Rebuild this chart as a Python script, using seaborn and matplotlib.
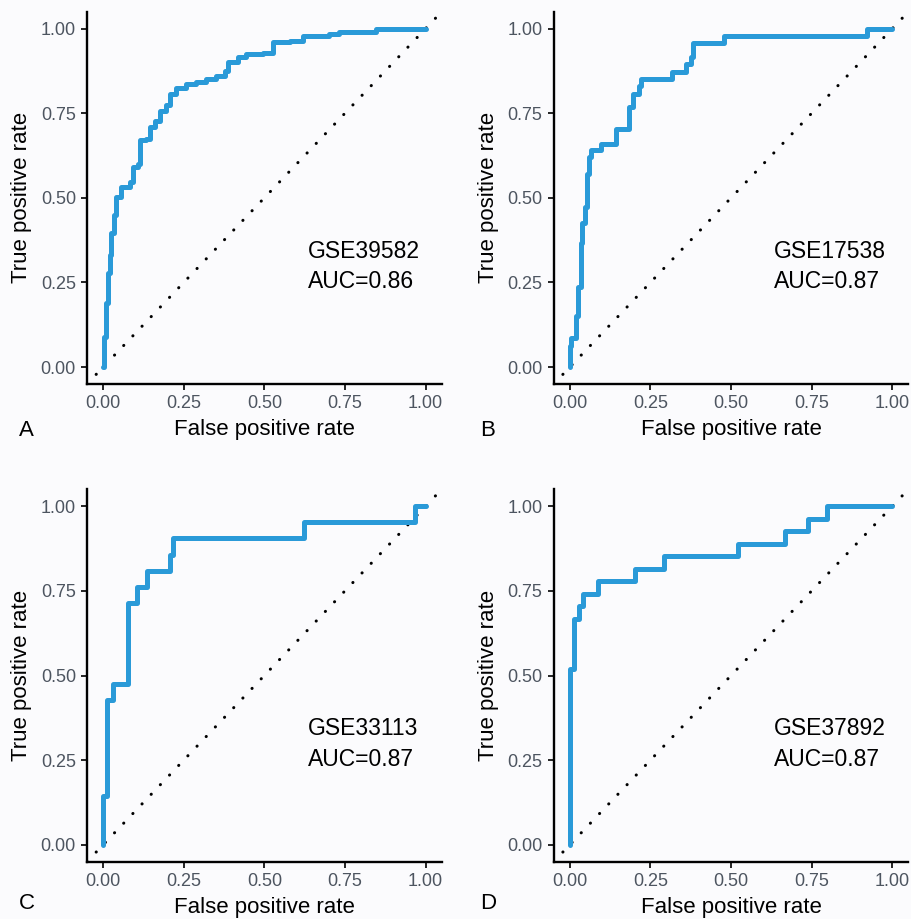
import numpy as np
import pandas as pd
import seaborn as sns
import matplotlib
matplotlib.use("Agg")
import matplotlib.pyplot as plt

# ROC curve vertices (fpr, tpr)
fpr_a = [0, 0.003, 0.008, 0.015, 0.022, 0.025, 0.033, 0.041, 0.056, 0.082, 0.092,
         0.108, 0.113, 0.134, 0.144, 0.16, 0.175, 0.196, 0.206, 0.227, 0.258, 0.289,
         0.32, 0.351, 0.377, 0.387, 0.418, 0.444, 0.496, 0.527, 0.578, 0.62, 0.702,
         0.733, 0.847, 1.0]
tpr_a = [0, 0.09, 0.19, 0.278, 0.33, 0.395, 0.45, 0.503, 0.532, 0.547, 0.591,
         0.601, 0.67, 0.675, 0.709, 0.728, 0.758, 0.773, 0.807, 0.826, 0.836, 0.841,
         0.851, 0.861, 0.876, 0.9, 0.915, 0.926, 0.929, 0.959, 0.964, 0.978, 0.983,
         0.991, 0.998, 1.0]

fpr_b = [0, 0, 0.005, 0.019, 0.024, 0.034, 0.039, 0.048, 0.053, 0.06, 0.065, 0.098,
         0.143, 0.184, 0.195, 0.215, 0.22, 0.317, 0.36, 0.375, 0.383, 0.479, 0.921, 1.0]
tpr_b = [0, 0.062, 0.086, 0.15, 0.238, 0.366, 0.425, 0.474, 0.571, 0.62, 0.64, 0.66,
         0.704, 0.768, 0.807, 0.831, 0.851, 0.873, 0.895, 0.915, 0.957, 0.978, 1.0, 1.0]

fpr_c = [0, 0, 0.012, 0.031, 0.077, 0.106, 0.137, 0.207, 0.217, 0.623, 0.968, 1.0]
tpr_c = [0, 0.143, 0.429, 0.476, 0.714, 0.762, 0.81, 0.857, 0.905, 0.952, 1.0, 1.0]

fpr_d = [0, 0, 0.013, 0.027, 0.041, 0.088, 0.203, 0.291, 0.523, 0.666, 0.74, 0.798, 1.0]
tpr_d = [0, 0.519, 0.667, 0.704, 0.741, 0.778, 0.815, 0.852, 0.889, 0.926, 0.963, 1.0, 1.0]

datasets = ["GSE39582", "GSE17538", "GSE33113", "GSE37892"]
auc_labels = ["AUC=0.86", "AUC=0.87", "AUC=0.87", "AUC=0.87"]
panel_letters = ["A", "B", "C", "D"]
ticks = [0.0, 0.25, 0.5, 0.75, 1.0]
tick_labels = ["0.00", "0.25", "0.50", "0.75", "1.00"]

curves = [(fpr_a, tpr_a), (fpr_b, tpr_b), (fpr_c, tpr_c), (fpr_d, tpr_d)]

sns.set_theme(style="ticks")
plt.rcParams["font.family"] = ["Liberation Sans", "DejaVu Sans"]

W, H = 911, 919
bg = "#FBFBFD"
fig = plt.figure(figsize=(W / 100, H / 100), dpi=100, facecolor=bg)

# axes boxes in pixels: left, top, width, height
boxes = [(87, 11.7, 354.7, 372.3),
         (553.7, 11.7, 354.7, 372.3),
         (87, 489.3, 354.7, 372.4),
         (553.7, 489.3, 354.7, 372.4)]
letter_pos = [(26, 436), (488, 436), (27, 909), (488, 909)]

line_color = "#2A9AD8"
tick_color = "#4D5560"

for i, (fpr, tpr) in enumerate(curves):
    l, t, w, h = boxes[i]
    ax = fig.add_axes([l / W, 1 - (t + h) / H, w / W, h / H])
    ax.set_facecolor(bg)

    lim = (-0.05, 1.05)
    ax.plot(lim, lim, color="black", lw=2.2, linestyle=(0, (0.05, 4.3)),
            dash_capstyle="round", zorder=1)

    df = pd.DataFrame({"fpr": fpr, "tpr": tpr})
    sns.lineplot(data=df, x="fpr", y="tpr", ax=ax, sort=False, estimator=None,
                 color=line_color, lw=3.6, drawstyle="steps-post", zorder=2)

    ax.set_xlim(*lim)
    ax.set_ylim(*lim)
    ax.set_xticks(ticks)
    ax.set_xticklabels(tick_labels)
    ax.set_yticks(ticks)
    ax.set_yticklabels(tick_labels)

    sns.despine(ax=ax)
    for s in ["left", "bottom"]:
        ax.spines[s].set_linewidth(1.7)
        ax.spines[s].set_color("black")
    ax.tick_params(axis="both", length=4.5, width=1.2, color="black",
                   labelsize=13, labelcolor=tick_color, pad=3.5)

    ax.set_xlabel("False positive rate", fontsize=16, color="black", labelpad=5)
    ax.set_ylabel("True positive rate", fontsize=16, color="black", labelpad=6)

    ax.text(0.634, 0.323, datasets[i], fontsize=16.5, ha="left", va="baseline",
            color="black")
    ax.text(0.634, 0.234, auc_labels[i], fontsize=16.5, ha="left", va="baseline",
            color="black")

    lx, ly = letter_pos[i]
    fig.text(lx / W, 1 - ly / H, panel_letters[i], fontsize=16, ha="center",
             va="baseline", color="black")

fig.savefig("out.png", dpi=100, facecolor=bg)
